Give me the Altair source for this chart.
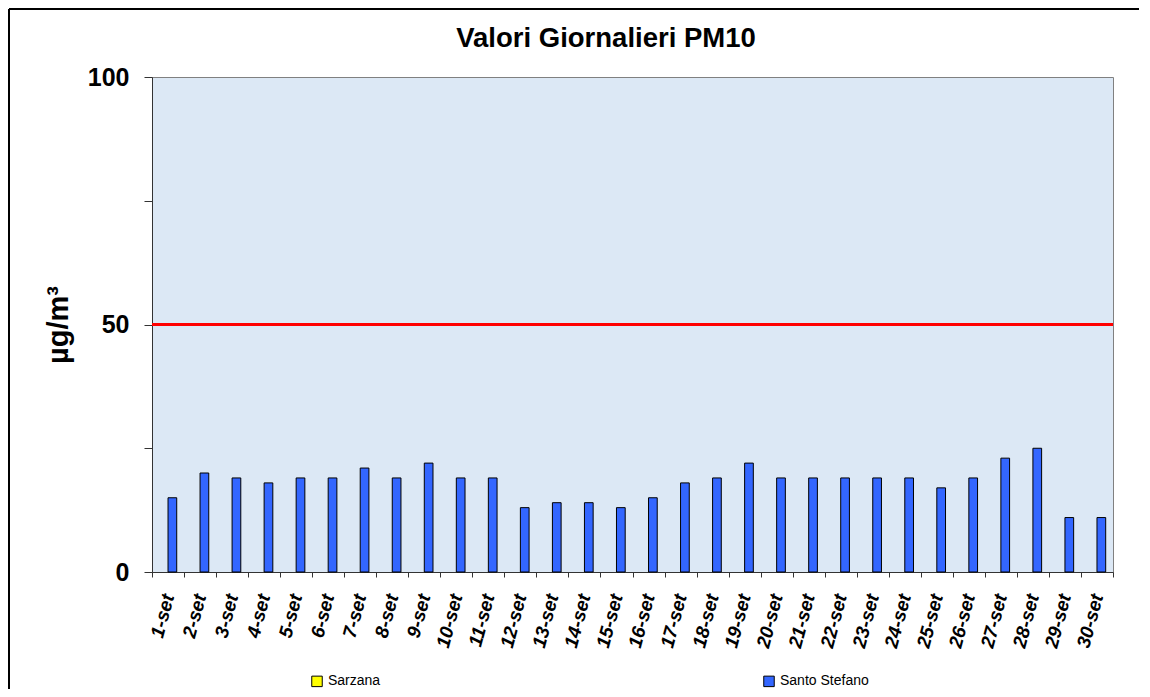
import altair as alt
import pandas as pd

days = [f"{i}-set" for i in range(1, 31)]
santo_stefano = [15, 20, 19, 18, 19, 19, 21, 19, 22, 19, 19, 13, 14, 14, 13,
                 15, 18, 19, 22, 19, 19, 19, 19, 19, 17, 19, 23, 25, 11, 11]
sarzana = [None] * 30
series = ["Sarzana", "Santo Stefano"]
series_colors = ["#ffff00", "#3366ff"]
limit_value = [50]
y_ticks = [0, 25, 50, 75, 100]
title_text = ["Valori Giornalieri PM10"]

rows = []
for d, s, v in zip(days, sarzana, santo_stefano):
    rows.append({"day": d, "series": "Sarzana", "value": s})
    rows.append({"day": d, "series": "Santo Stefano", "value": v})
df = pd.DataFrame(rows)

FONT = "Liberation Sans"

bars = alt.Chart(df).mark_bar(stroke="black", strokeWidth=1).encode(
    x=alt.X("day:N", sort=days,
            scale=alt.Scale(paddingInner=0, paddingOuter=0),
            axis=alt.Axis(title=None, labelAngle=285, labelFont=FONT,
                          labelFontSize=19, labelFontWeight="bold",
                          labelFontStyle="italic", labelColor="black",
                          labelPadding=17, tickBand="extent", tickSize=5,
                          tickColor="#333", domainColor="#333",
                          labelOverlap=False)),
    xOffset=alt.XOffset("series:N", sort=series,
                        scale=alt.Scale(domain=series, paddingInner=0, paddingOuter=0.84)),
    y=alt.Y("value:Q", scale=alt.Scale(domain=[0, 100]),
            axis=alt.Axis(title="µg/m³", values=y_ticks,
                          labelExpr="datum.value % 50 == 0 ? datum.label : ''",
                          labelFont=FONT, labelFontSize=25, labelFontWeight="bold",
                          labelColor="black", tickSize=8, labelPadding=15,
                          tickColor="#333", domainColor="#333", grid=False,
                          titleFont=FONT, titleFontSize=29, titleFontWeight="bold",
                          titleColor="black", titlePadding=14)),
    color=alt.Color("series:N", sort=series,
                    scale=alt.Scale(domain=series, range=series_colors),
                    legend=alt.Legend(title=None, orient="none", legendX=158,
                                      legendY=597, direction="horizontal",
                                      symbolType="square", symbolSize=110,
                                      symbolStrokeColor="black", symbolStrokeWidth=1,
                                      labelFont=FONT, labelFontSize=14,
                                      labelColor="black", columnPadding=380,
                                      symbolOffset=0)),
)

limit = alt.Chart(pd.DataFrame({"y": limit_value})).mark_rule(
    color="#ff0000", strokeWidth=3).encode(y="y:Q")

title = alt.Chart(pd.DataFrame({"t": title_text})).mark_text(
    font=FONT, fontSize=27.5, fontWeight="bold", color="black",
    align="center", baseline="alphabetic").encode(
    text="t:N", x=alt.value(454), y=alt.value(-30))

frame_top = alt.Chart(pd.DataFrame({"y": limit_value})).mark_rule(
    color="black", strokeWidth=2).encode(
    x=alt.value(-143), x2=alt.value(987), y=alt.value(-68))
frame_left = alt.Chart(pd.DataFrame({"y": limit_value})).mark_rule(
    color="black", strokeWidth=2).encode(
    x=alt.value(-143), y=alt.value(-68), y2=alt.value(620))

chart = alt.layer(bars, limit, title, frame_top, frame_left).properties(
    width=961, height=495,
    autosize=alt.AutoSizeParams(type="none"),
    padding={"left": 144, "top": 69, "right": 26, "bottom": 117},
).configure_view(fill="#dce8f5", stroke="#808080", strokeWidth=1)

chart.save("out.html", embed_options={"renderer": "svg", "actions": False})
